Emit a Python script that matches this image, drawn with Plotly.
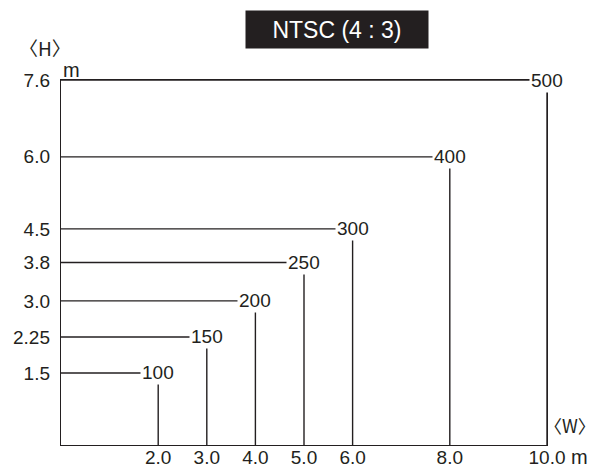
import plotly.graph_objects as go

sizes = ["100", "150", "200", "250", "300", "400", "500"]
widths = [2.0, 3.0, 4.0, 5.0, 6.0, 8.0, 10.0]
heights = [1.5, 2.25, 3.0, 3.8, 4.5, 6.0, 7.6]
x_ticks = ["2.0", "3.0", "4.0", "5.0", "6.0", "8.0", "10.0"]
y_ticks = ["1.5", "2.25", "3.0", "3.8", "4.5", "6.0", "7.6"]

INK = "#231f20"
FONT = "Liberation Sans, Arial, sans-serif"

xs, ys = [], []
for w, h in zip(widths, heights):
    xs += [0, w, None, w, w, None]
    ys += [h, h, None, h, 0, None]

fig = go.Figure()
fig.add_trace(go.Scatter(x=xs, y=ys, mode="lines",
                         line=dict(color=INK, width=1.4),
                         hoverinfo="skip", showlegend=False))

for s, w, h in zip(sizes, widths, heights):
    fig.add_annotation(x=w, y=h, text=s, showarrow=False,
                       font=dict(family=FONT, size=19, color=INK),
                       bgcolor="white", borderpad=1)

fig.update_layout(
    width=599, height=467,
    margin=dict(l=61, r=52, t=80, b=22),
    paper_bgcolor="white", plot_bgcolor="white",
    font=dict(family=FONT, size=19, color=INK),
    showlegend=False,
    xaxis=dict(range=[0, 10], tickvals=widths, ticktext=x_ticks,
               showgrid=False, zeroline=False, showline=True, mirror=True,
               linecolor=INK, linewidth=1.4, ticks="", ticklabelstandoff=-5,
               automargin=False,
               tickfont=dict(family=FONT, size=19, color=INK)),
    yaxis=dict(range=[0, 7.6], tickvals=heights, ticktext=y_ticks,
               showgrid=False, zeroline=False, showline=True, mirror=True,
               linecolor=INK, linewidth=1.4, ticks="", ticklabelstandoff=6,
               automargin=False,
               tickfont=dict(family=FONT, size=19, color=INK)),
)

# title box
fig.add_annotation(xref="paper", yref="paper", x=(337 - 61) / 486, y=1 + (80 - 29.5) / 365,
                   text="NTSC (4 : 3)", showarrow=False,
                   font=dict(family=FONT, size=23, color="white"),
                   bgcolor="#231f20", borderpad=0, width=182, height=37,
                   xanchor="center", yanchor="middle")
# axis captions
fig.add_annotation(xref="paper", yref="paper", x=(45 - 61) / 486, y=1 + (80 - 47) / 365,
                   text="〈H〉", showarrow=False,
                   font=dict(family="Noto Sans CJK JP", size=19, color=INK),
                   xanchor="center", yanchor="middle")
fig.add_annotation(xref="paper", yref="paper", x=0, y=1 + (80 - 70) / 365,
                   text="m", showarrow=False,
                   font=dict(family=FONT, size=20, color=INK),
                   xanchor="left", yanchor="middle")
fig.add_annotation(xref="paper", yref="paper", x=1 + (598 - 547) / 486, y=(445 - 425) / 365,
                   text="〈W〉", showarrow=False,
                   font=dict(family="Noto Sans CJK JP", size=18, color=INK),
                   xanchor="right", yanchor="middle")
fig.add_annotation(xref="paper", yref="paper", x=1 + (569 - 547) / 486, y=-(457 - 445) / 365,
                   text="m", showarrow=False,
                   font=dict(family=FONT, size=20, color=INK),
                   xanchor="left", yanchor="middle")

fig.write_html("out.html", config={"displayModeBar": False},
               post_script="document.body.style.margin='0';")
